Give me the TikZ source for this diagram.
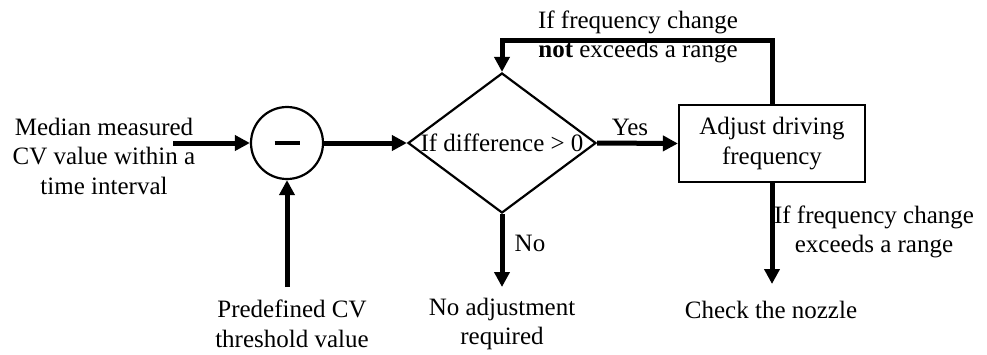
\documentclass[tikz,border=0pt]{standalone}
\usepackage{fontspec}
\setmainfont{Liberation Serif}
\usetikzlibrary{shapes.geometric,arrows.meta}
\begin{document}
\begin{tikzpicture}[x=1pt,y=-1pt,
  every node/.style={font=\fontsize{25}{29.5}\selectfont, inner sep=0pt},
  arr/.style={line width=5pt, -{Triangle[length=15pt,width=15pt]}},
  plain/.style={line width=5pt},
  txt/.style={align=center},
  boxst/.style={draw, line width=2.2pt, rectangle, minimum width=186pt, minimum height=77pt, align=center},
  sumst/.style={draw, line width=2.2pt, circle, minimum size=72pt},
  diast/.style={draw, line width=2.2pt, diamond, minimum width=188pt, minimum height=140pt}]
\useasboundingbox (0,0) rectangle (987,354);

\node[txt] (in1) at (104,156) {Median measured\\CV value within a\\time interval};
\node[sumst] (sub) at (287,143) {\rule{25pt}{4.5pt}};
\node[txt] (in2) at (292,324) {Predefined CV\\threshold value};
\node[diast] (dia) at (502,143) {};
\node (diatext) at (502,143) {If difference > 0};
\node[boxst] (box) at (772,143.5) {Adjust driving\\frequency};
\node[txt] (noadj) at (502,324) {No adjustment\\required};
\node (check) at (771,310) {Check the nozzle};

\node (yes) at (630,127) {Yes};
\node (no) at (530,243) {No};
\node[txt] (fb) at (638,37) {If frequency change\\\textbf{not} exceeds a range};
\node[txt] (ex) at (874,232) {If frequency change\\exceeds a range};

\coordinate (s1) at (173,143);
\coordinate (s2) at (287,287);
\coordinate (e1) at (502,287);
\coordinate (e2) at (772,284);

\draw[arr] (s1) -- (sub.west);
\draw[arr] (s2) -- (sub.south);
\draw[arr] (sub.east) -- (dia.west);
\draw[arr] (dia.east) -- (box.west);
\draw[arr] (dia.south) -- (e1);
\draw[arr] (box.south) -- (e2);
\draw[arr] (box.north) -- (772,40) -| (dia.north);
\end{tikzpicture}
\end{document}
